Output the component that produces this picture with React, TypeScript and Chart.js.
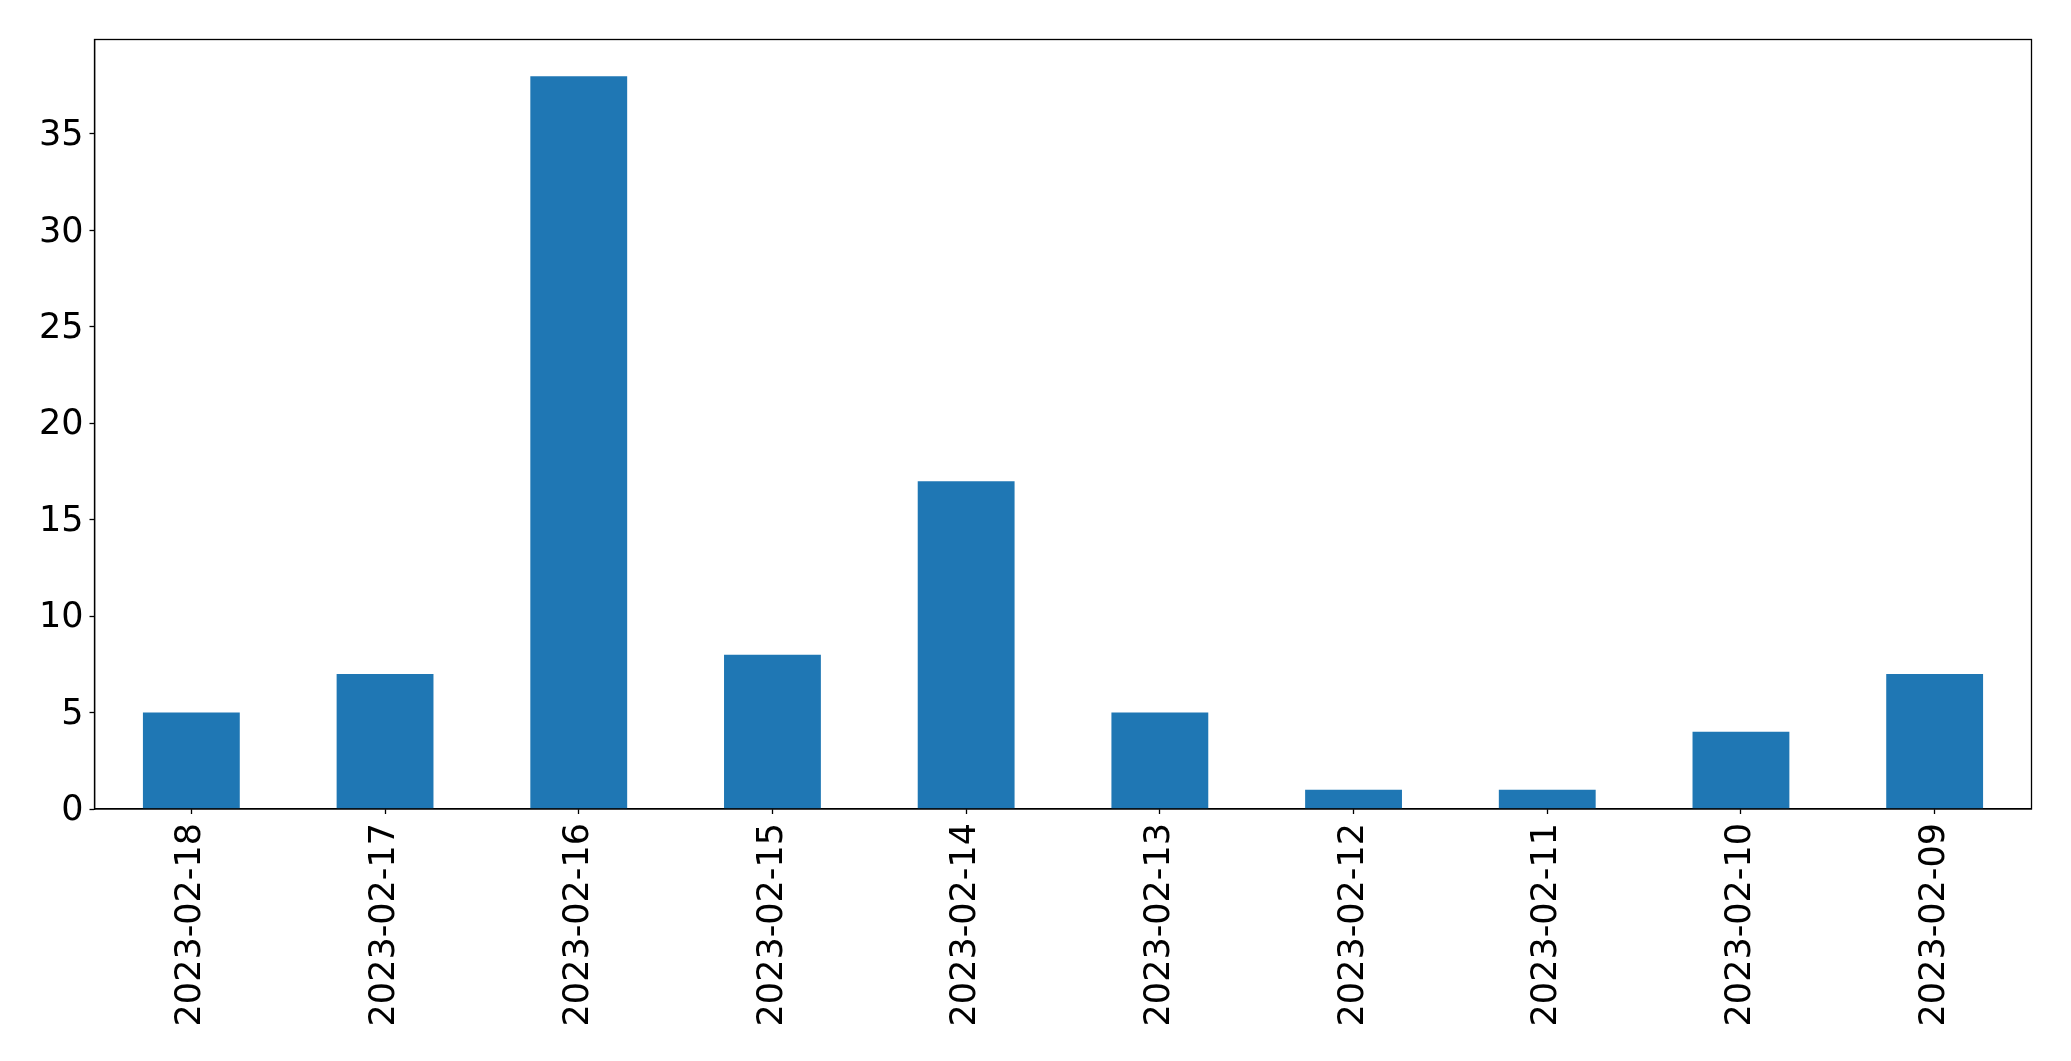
import React, { useEffect, useRef } from "react";
import { Chart, registerables } from "chart.js";

Chart.register(...registerables);

const categories = [
  "2023-02-18",
  "2023-02-17",
  "2023-02-16",
  "2023-02-15",
  "2023-02-14",
  "2023-02-13",
  "2023-02-12",
  "2023-02-11",
  "2023-02-10",
  "2023-02-09",
];
const counts = [5, 7, 38, 8, 17, 5, 1, 1, 4, 7];
const yMax = 39.9;
const yStep = 5;

const framePlugin = {
  id: "frame",
  afterDraw(chart: any) {
    const { ctx, chartArea } = chart;
    ctx.save();
    ctx.strokeStyle = "#000";
    ctx.lineWidth = 1.3;
    ctx.strokeRect(
      chartArea.left,
      chartArea.top,
      chartArea.right - chartArea.left,
      chartArea.bottom - chartArea.top
    );
    ctx.restore();
  },
};

export default function App() {
  const ref = useRef<HTMLCanvasElement | null>(null);
  useEffect(() => {
    document.body.style.margin = "0";
    const font = { family: "DejaVu Sans", size: 35 };
    const chart = new Chart(ref.current!, {
      type: "bar",
      data: {
        labels: categories,
        datasets: [
          {
            data: counts,
            backgroundColor: "#1f77b4",
            categoryPercentage: 1,
            barPercentage: 0.5,
          },
        ],
      },
      options: {
        animation: false,
        responsive: false,
        maintainAspectRatio: false,
        layout: { padding: { top: 39.5, right: 39.5, left: 0, bottom: 0 } },
        plugins: { legend: { display: false }, tooltip: { enabled: false } },
        scales: {
          x: {
            offset: true,
            grid: {
              display: true,
              offset: false,
              drawOnChartArea: false,
              drawTicks: true,
              tickLength: 5,
              color: "#000",
              tickWidth: 1.3,
            },
            border: { display: true, color: "#000", width: 1.3 },
            ticks: {
              color: "#000",
              font,
              minRotation: 90,
              maxRotation: 90,
              autoSkip: false,
              padding: 9,
            },
            afterFit: (s: any) => {
              s.height = 252;
            },
          },
          y: {
            min: 0,
            max: yMax,
            grid: {
              display: true,
              drawOnChartArea: false,
              drawTicks: true,
              tickLength: 5,
              color: "#000",
              tickWidth: 1.3,
            },
            border: { display: true, color: "#000", width: 1.3 },
            ticks: {
              color: "#000",
              font,
              stepSize: yStep,
              includeBounds: false,
              padding: 6,
              labelOffset: 2,
            },
            afterFit: (s: any) => {
              s.width = 94.5;
            },
          },
        },
      },
      plugins: [framePlugin],
    });
    return () => chart.destroy();
  }, []);
  return (
    <div style={{ position: "absolute", left: 0, top: 0, width: 2071, height: 1061, background: "#fff" }}>
      <canvas ref={ref} width={2071} height={1061} style={{ width: 2071, height: 1061 }} />
    </div>
  );
}
